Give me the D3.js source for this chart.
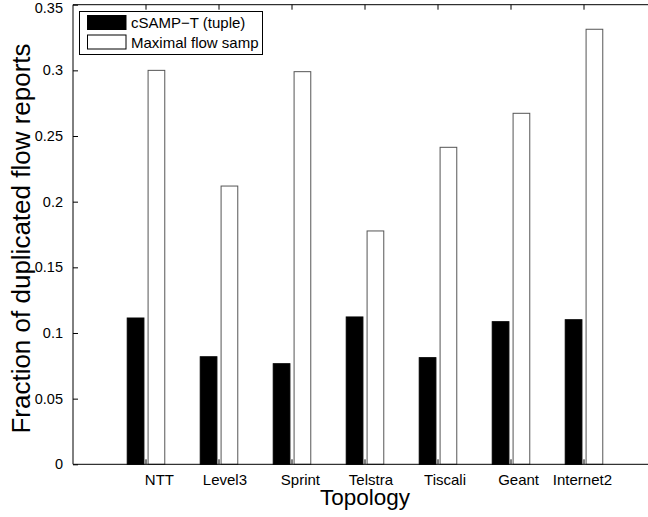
<!DOCTYPE html>
<html>
<head>
<meta charset="utf-8">
<script src="https://cdn.jsdelivr.net/npm/d3@7"></script>
<style>
  html, body { margin: 0; padding: 0; background: #fff; }
  svg { display: block; font-family: "Liberation Sans", Arial, Helvetica, sans-serif; }
</style>
</head>
<body>
<svg id="chart" width="648" height="517"></svg>
<script>
// Topologies and the fraction of duplicated flow reports per scheme
const topologies = ["NTT", "Level3", "Sprint", "Telstra", "Tiscali", "Geant", "Internet2"];
const seriesNames = ["cSAMP\u2212T (tuple)", "Maximal flow samp"];
const csampTuple = [0.1114, 0.0819, 0.0766, 0.1122, 0.0812, 0.1086, 0.1101];
const maximalFlow = [0.300, 0.2119, 0.299, 0.1777, 0.2414, 0.2673, 0.3313];
const yTicks = [0, 0.05, 0.1, 0.15, 0.2, 0.25, 0.3, 0.35];
const yTickLabels = ["0", "0.05", "0.1", "0.15", "0.2", "0.25", "0.3", "0.35"];

const seriesValues = [csampTuple, maximalFlow];
const seriesFill = ["#000000", "#ffffff"];
const seriesStroke = ["#000000", "#555555"];

const svg = d3.select("#chart");

const plotLeft = 73, plotRight = 657, plotTop = 4.7, plotBottom = 464.3;

// x: group positions 1..7 inside limits [0, 8]
const x = d3.scaleLinear().domain([0, 8]).range([plotLeft, plotRight]);
const y = d3.scaleLinear().domain([0, 0.35]).range([plotBottom, plotTop]);

// within-group placement (grouped bars, group width 4/7 of a unit)
const groupHalf = (x(1) - x(0)) * 2 / 7;
const inner = d3.scaleBand().domain(d3.range(seriesValues.length))
  .range([-groupHalf, groupHalf]).paddingInner(0.2).paddingOuter(0.1);

// bars
const bars = svg.append("g");
seriesValues.forEach((vals, s) => {
  bars.selectAll(null)
    .data(vals)
    .enter().append("rect")
    .attr("x", (d, i) => x(i + 1) + inner(s))
    .attr("y", d => y(d))
    .attr("width", inner.bandwidth())
    .attr("height", d => y(0) - y(d))
    .attr("fill", seriesFill[s])
    .attr("stroke", seriesStroke[s])
    .attr("stroke-width", 1);
});

// axes box (right edge falls outside the drawing area)
const frame = svg.append("g").attr("fill", "none").attr("stroke", "#000").attr("stroke-width", 1);
frame.append("line").attr("x1", plotLeft).attr("x2", plotRight).attr("y1", plotTop).attr("y2", plotTop);
frame.append("line").attr("x1", plotLeft).attr("x2", plotRight).attr("y1", plotBottom).attr("y2", plotBottom);
frame.append("line").attr("x1", plotLeft).attr("x2", plotLeft).attr("y1", plotTop).attr("y2", plotBottom);
frame.append("line").attr("x1", plotRight).attr("x2", plotRight).attr("y1", plotTop).attr("y2", plotBottom);

// y axis: inward ticks, labels on the left
const yAxis = d3.axisLeft(y).tickValues(yTicks).tickSize(-5).tickPadding(10)
  .tickFormat((d, i) => yTickLabels[i]);
const gy = svg.append("g").attr("transform", `translate(${plotLeft},0)`).call(yAxis);
gy.select(".domain").remove();
gy.selectAll(".tick line").attr("stroke", "#000");
gy.selectAll(".tick text").attr("font-size", 14.5).attr("fill", "#000")
  .attr("font-family", "Liberation Sans, Arial, sans-serif");
// keep the topmost label inside the drawing area
gy.selectAll(".tick text").filter(d => y(d) < 8).attr("dy", "0.55em");

// x ticks: inward from top and bottom
const xt = d3.range(1, topologies.length + 1);
const tickG = svg.append("g").attr("stroke", "#000").attr("stroke-width", 1);
tickG.selectAll(null).data(xt).enter().append("line")
  .attr("x1", d => x(d)).attr("x2", d => x(d)).attr("y1", plotBottom).attr("y2", plotBottom - 5);
tickG.selectAll(null).data(xt).enter().append("line")
  .attr("x1", d => x(d)).attr("x2", d => x(d)).attr("y1", plotTop).attr("y2", plotTop + 5);

// category labels
svg.append("g").selectAll("text").data(topologies).enter().append("text")
  .attr("x", (d, i) => x(i + 1) + 28)
  .attr("y", 485)
  .attr("text-anchor", "end")
  .attr("font-size", 15)
  .attr("fill", "#000")
  .text(d => d);

// axis titles
svg.append("text")
  .attr("x", (plotLeft + plotRight) / 2).attr("y", 505)
  .attr("text-anchor", "middle").attr("font-size", 22.5).attr("fill", "#000")
  .text("Topology");
svg.append("text")
  .attr("transform", `translate(30,${(plotTop + plotBottom) / 2 + 4}) rotate(-90)`)
  .attr("text-anchor", "middle").attr("font-size", 26).attr("fill", "#000")
  .text("Fraction of duplicated flow reports");

// legend
const legend = svg.append("g");
legend.append("rect").attr("x", 79.5).attr("y", 11.5).attr("width", 183).attr("height", 43)
  .attr("fill", "#fff").attr("stroke", "#000");
seriesNames.forEach((name, s) => {
  const ly = 15.5 + s * 19.5;
  legend.append("rect").attr("x", 87.5).attr("y", ly).attr("width", 38.5).attr("height", 14)
    .attr("fill", seriesFill[s]).attr("stroke", "#000");
  legend.append("text").attr("x", 131).attr("y", ly + 12.5)
    .attr("font-size", 15).attr("fill", "#000").text(name);
});
</script>
</body>
</html>
